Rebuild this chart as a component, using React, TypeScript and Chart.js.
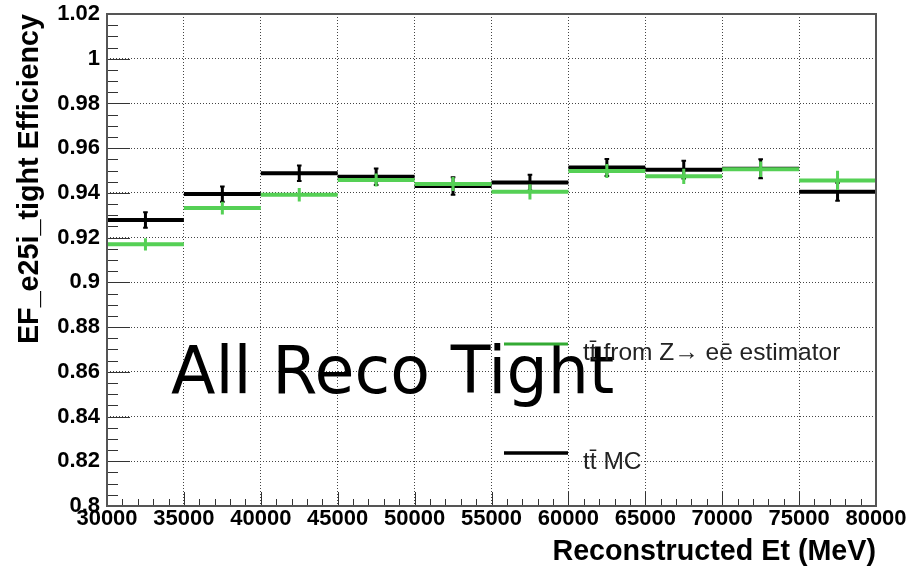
import React, { useEffect, useRef } from "react";
import { Chart, registerables } from "chart.js";

Chart.register(...registerables);

// ---- data ----
const binEdges = [30000, 35000, 40000, 45000, 50000, 55000, 60000, 65000, 70000, 75000, 80000];
const estimatorEff = [0.917, 0.9332, 0.9392, 0.9458, 0.944, 0.9405, 0.9498, 0.9474, 0.9506, 0.9456];
const estimatorErr = [0.0027, 0.0029, 0.003, 0.0029, 0.0031, 0.0034, 0.0031, 0.0034, 0.0035, 0.0043];
const mcEff = [0.9279, 0.9395, 0.9488, 0.9472, 0.9431, 0.9446, 0.9514, 0.9504, 0.9508, 0.9405];
const mcErr = [0.0035, 0.0034, 0.0035, 0.0037, 0.0039, 0.0035, 0.0038, 0.004, 0.0042, 0.004];
const xTickValues = [30000, 35000, 40000, 45000, 50000, 55000, 60000, 65000, 70000, 75000, 80000];
const yTickValues = [0.8, 0.82, 0.84, 0.86, 0.88, 0.9, 0.92, 0.94, 0.96, 0.98, 1, 1.02];
const seriesLabels = ["tt\u0304 from Z\u2192 ee\u0304 estimator", "tt\u0304 MC"];
const overlayText = "All Reco Tight";
const xTitle = "Reconstructed Et (MeV)";
const yTitle = "EF_e25i_tight Efficiency";

const FONT = "'Liberation Sans', Arial, Helvetica, sans-serif";
const GREEN = "#55d055";
const GREEN_LEGEND = "#33aa33";
const BLACK = "#000000";
const CAP_HALF = 150; // half width of error caps in x units

type P = { x: number; y: number | null };

function stepPoints(vals: number[]): P[] {
  const pts: P[] = [];
  vals.forEach((v, i) => {
    pts.push({ x: binEdges[i], y: v }, { x: binEdges[i + 1], y: v }, { x: binEdges[i + 1], y: null });
  });
  return pts;
}
function errPoints(vals: number[], errs: number[]): P[] {
  const pts: P[] = [];
  vals.forEach((v, i) => {
    const c = (binEdges[i] + binEdges[i + 1]) / 2;
    pts.push({ x: c, y: v - errs[i] }, { x: c, y: v + errs[i] }, { x: c, y: null });
  });
  return pts;
}
function capPoints(vals: number[], errs: number[]): P[] {
  const pts: P[] = [];
  vals.forEach((v, i) => {
    const c = (binEdges[i] + binEdges[i + 1]) / 2;
    [v - errs[i], v + errs[i]].forEach((yy) => {
      pts.push({ x: c - CAP_HALF, y: yy }, { x: c + CAP_HALF, y: yy }, { x: c + CAP_HALF, y: null });
    });
  });
  return pts;
}

const rootFrame = {
  id: "rootFrame",
  afterDatasetsDraw(chart: any) {
    const { ctx, chartArea, scales } = chart;
    const { left, right, top, bottom } = chartArea;
    const xs = scales.x;
    const ys = scales.y;
    ctx.save();
    ctx.strokeStyle = "#333";
    ctx.lineWidth = 1;
    ctx.beginPath();
    const x0 = xTickValues[0];
    const x1 = xTickValues[xTickValues.length - 1];
    for (let k = 0; x0 + k * 1000 <= x1; k++) {
      const v = x0 + k * 1000;
      const px = Math.round(xs.getPixelForValue(v)) + 0.5;
      const len = k % 5 === 0 ? 14 : 7;
      ctx.moveTo(px, bottom);
      ctx.lineTo(px, bottom - len);
    }
    const y0 = yTickValues[0];
    const y1 = yTickValues[yTickValues.length - 1];
    for (let k = 0; y0 + k * 0.005 <= y1 + 1e-9; k++) {
      const v = y0 + k * 0.005;
      const py = Math.round(ys.getPixelForValue(v)) + 0.5;
      const len = k % 4 === 0 ? 23 : 11;
      ctx.moveTo(left, py);
      ctx.lineTo(left + len, py);
    }
    ctx.stroke();
    ctx.strokeStyle = "#555";
    ctx.lineWidth = 2;
    ctx.strokeRect(left, top, right - left, bottom - top);
    ctx.restore();
  },
  afterDraw(chart: any) {
    const { ctx } = chart;
    ctx.save();
    // overlay text
    ctx.font = "65px 'DejaVu Sans', sans-serif";
    ctx.fillStyle = "#000";
    ctx.textBaseline = "alphabetic";
    ctx.textAlign = "left";
    ctx.fillText(overlayText, 171, 393);
    // legend
    ctx.lineCap = "butt";
    ctx.strokeStyle = GREEN_LEGEND;
    ctx.lineWidth = 3;
    ctx.beginPath();
    ctx.moveTo(504, 344);
    ctx.lineTo(568, 344);
    ctx.stroke();
    ctx.strokeStyle = BLACK;
    ctx.lineWidth = 3.5;
    ctx.beginPath();
    ctx.moveTo(504, 453);
    ctx.lineTo(568, 453);
    ctx.stroke();
    ctx.font = `24.5px ${FONT}`;
    ctx.fillStyle = "#222";
    ctx.fillText(seriesLabels[0], 583, 360);
    ctx.fillText(seriesLabels[1], 583, 469);
    ctx.restore();
  },
};

export default function App() {
  const ref = useRef<HTMLCanvasElement | null>(null);
  useEffect(() => {
    document.body.style.margin = "0";
    const canvas = ref.current;
    if (!canvas) return;
    const chart = new Chart(canvas, {
      type: "line",
      data: {
        datasets: [
          { label: "est", data: stepPoints(estimatorEff) as any, borderColor: GREEN, borderWidth: 4, pointRadius: 0, spanGaps: false },
          { label: "estErr", data: errPoints(estimatorEff, estimatorErr) as any, borderColor: GREEN, borderWidth: 3, pointRadius: 0, spanGaps: false },
          { label: "mc", data: stepPoints(mcEff) as any, borderColor: BLACK, borderWidth: 4, pointRadius: 0, spanGaps: false },
          { label: "mcErr", data: errPoints(mcEff, mcErr) as any, borderColor: BLACK, borderWidth: 3, pointRadius: 0, spanGaps: false },
          { label: "mcCap", data: capPoints(mcEff, mcErr) as any, borderColor: BLACK, borderWidth: 2, pointRadius: 0, spanGaps: false },
        ],
      },
      options: {
        responsive: false,
        animation: false,
        devicePixelRatio: 1,
        layout: { padding: { top: 14, right: 48, left: 0, bottom: 0 } },
        plugins: { legend: { display: false }, tooltip: { enabled: false } },
        elements: { line: { tension: 0, borderCapStyle: "butt" }, point: { radius: 0 } },
        scales: {
          x: {
            type: "linear",
            min: xTickValues[0],
            max: xTickValues[xTickValues.length - 1],
            afterBuildTicks: (s: any) => {
              s.ticks = xTickValues.map((v) => ({ value: v }));
            },
            afterFit: (s: any) => {
              s.height = 63;
              s.paddingLeft = 0;
              s.paddingRight = 0;
            },
            ticks: {
              autoSkip: false,
              maxRotation: 0,
              padding: 0,
              color: "#000",
              font: { family: FONT, size: 22, weight: "bold" },
              callback: (v: any) => String(v),
            },
            grid: { color: "#444", lineWidth: 1, drawTicks: false },
            border: { display: false, dash: [1, 2] },
            title: {
              display: true,
              text: xTitle,
              align: "end",
              color: "#000",
              font: { family: FONT, size: 28.7, weight: "bold" },
              padding: { top: 0, bottom: 0 },
            },
          },
          y: {
            type: "linear",
            min: yTickValues[0],
            max: yTickValues[yTickValues.length - 1],
            afterBuildTicks: (s: any) => {
              s.ticks = yTickValues.map((v) => ({ value: v }));
            },
            afterFit: (s: any) => {
              s.width = 107;
              s.paddingTop = 0;
              s.paddingBottom = 0;
            },
            ticks: {
              padding: 7,
              color: "#000",
              font: { family: FONT, size: 22, weight: "bold" },
              callback: (v: any) => String(Number(Number(v).toFixed(2))),
            },
            grid: { color: "#444", lineWidth: 1, drawTicks: false },
            border: { display: false, dash: [1, 2] },
            title: {
              display: true,
              text: yTitle,
              align: "end",
              color: "#000",
              font: { family: FONT, size: 28.7, weight: "bold" },
              padding: { top: 13, bottom: 0 },
            },
          },
        },
      } as any,
      plugins: [rootFrame],
    });
    return () => chart.destroy();
  }, []);
  return (
    <div style={{ position: "absolute", left: 0, top: 0, width: 924, height: 569, background: "#fff" }}>
      <canvas ref={ref} width={924} height={569} style={{ display: "block" }} />
    </div>
  );
}
